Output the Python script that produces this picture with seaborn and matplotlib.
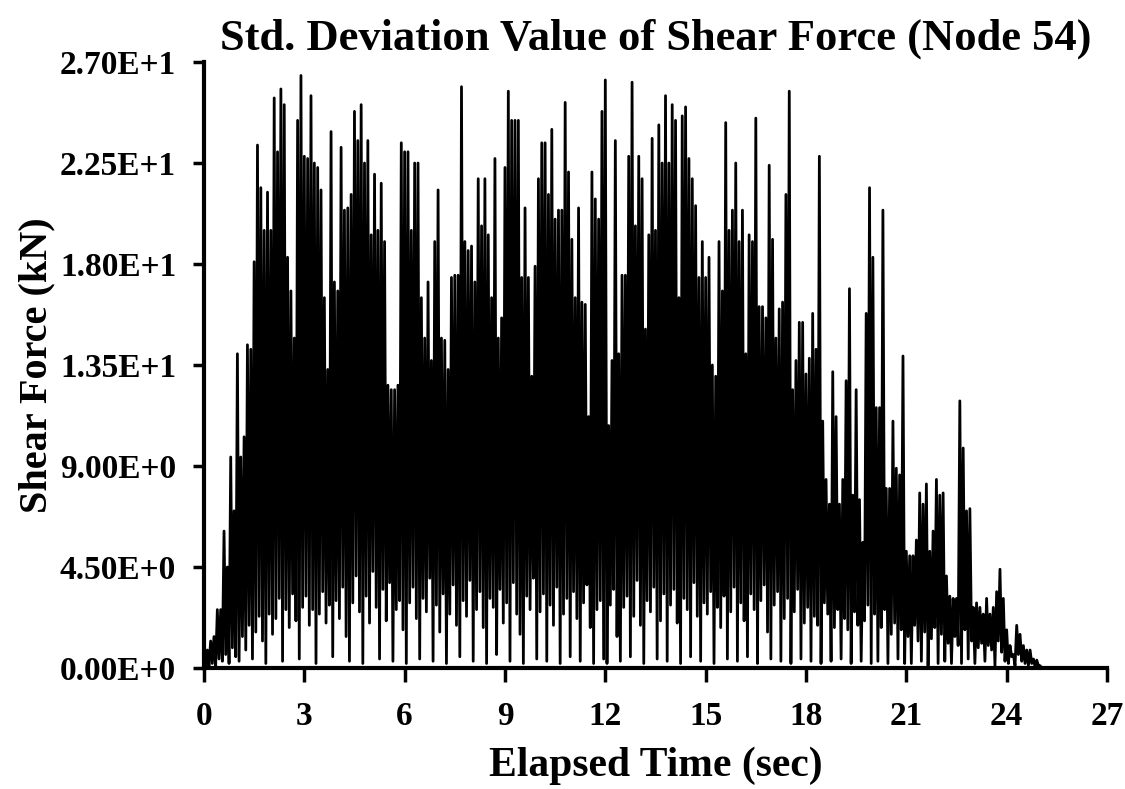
import numpy as np
import pandas as pd
import matplotlib
matplotlib.use("Agg")
import matplotlib.pyplot as plt
import seaborn as sns

# Std. deviation of shear force at node 54, sampled every 0.1 s.
# Each sample holds the local peak and the following trough of the response.
sample_step_s = 0.1

peak_kN = [
    0.3, 0.8, 1.2, 1.4, 2.6, 2.6, 6.1, 4.5, 9.4, 7.0,
    14.0, 9.4, 10.3, 14.4, 14.2, 18.1, 23.3, 21.4, 19.5, 21.2,
    19.5, 25.4, 23.0, 25.8, 25.1, 18.3, 16.8, 14.7, 24.4, 26.4,
    22.8, 22.7, 25.5, 22.5, 22.3, 21.3, 16.5, 13.3, 23.9, 17.2,
    16.8, 23.2, 20.4, 20.5, 21.1, 24.8, 23.5, 25.1, 22.5, 23.5,
    19.3, 22.0, 19.5, 21.6, 19.0, 12.6, 12.4, 12.4, 12.6, 23.4,
    23.0, 23.0, 19.5, 22.5, 22.5, 16.5, 14.7, 17.2, 13.7, 19.0,
    21.3, 14.7, 14.6, 13.3, 17.4, 17.5, 17.5, 25.9, 19.0, 18.6,
    18.8, 17.2, 21.8, 19.7, 21.8, 19.3, 16.5, 22.7, 14.7, 15.6,
    22.3, 25.7, 24.4, 24.4, 24.4, 17.4, 20.5, 17.4, 13.0, 17.9,
    21.8, 23.4, 23.4, 21.1, 24.0, 20.0, 20.4, 20.4, 25.2, 22.1,
    19.1, 16.5, 20.5, 16.3, 16.2, 11.2, 22.1, 20.9, 20.0, 24.8,
    26.2, 10.8, 13.7, 23.5, 14.0, 17.5, 17.5, 22.8, 26.1, 19.7,
    22.8, 21.8, 15.1, 19.3, 23.6, 19.5, 24.2, 22.5, 25.5, 22.5,
    25.1, 24.4, 16.5, 24.6, 25.0, 22.7, 21.8, 20.6, 17.4, 19.0,
    17.4, 18.3, 13.5, 13.0, 19.0, 16.8, 24.3, 19.5, 20.4, 22.5,
    19.0, 20.4, 14.0, 19.3, 19.0, 24.5, 16.1, 16.1, 15.6, 22.4,
    19.1, 14.7, 16.0, 16.3, 21.1, 25.7, 12.4, 13.7, 15.4, 15.4,
    13.1, 13.8, 15.8, 14.2, 22.8, 11.0, 8.4, 7.3, 13.2, 11.2,
    7.3, 8.4, 12.8, 16.9, 7.7, 12.4, 7.5, 5.6, 15.8, 21.4,
    18.3, 11.6, 11.6, 20.4, 8.0, 8.0, 11.0, 8.9, 8.6, 13.9,
    5.2, 5.0, 5.0, 5.7, 7.8, 7.3, 8.2, 5.2, 6.1, 8.4,
    7.7, 7.8, 4.1, 3.2, 3.1, 3.1, 11.9, 9.8, 7.0, 7.1,
    2.7, 2.9, 2.7, 2.4, 3.1, 2.4, 2.7, 3.4, 4.4, 3.1,
    1.7, 1.0, 0.6, 1.9, 1.5, 1.0, 0.8, 0.8, 0.4, 0.35,
    0.1,
]

trough_kN = [
    0.0, 0.1, 0.2, 0.1, 0.4, 0.3, 0.6, 0.2, 0.9, 0.5,
    0.3, 1.4, 0.8, 1.9, 0.4, 1.6, 2.3, 1.2, 0.2, 2.4,
    1.5, 2.2, 3.1, 0.3, 2.6, 1.8, 3.3, 2.1, 0.4, 2.7,
    3.2, 1.9, 2.6, 0.2, 2.4, 3.4, 2.0, 2.8, 0.5, 3.0,
    2.2, 3.6, 1.4, 0.3, 2.9, 4.1, 2.5, 0.2, 3.2, 2.0,
    4.3, 2.7, 0.4, 3.5, 2.1, 3.8, 0.3, 2.6, 3.0, 1.7,
    0.2, 2.9, 3.6, 2.2, 0.4, 3.1, 2.5, 4.0, 0.3, 2.8,
    1.6, 3.3, 0.2, 2.4, 3.7, 1.9, 0.5, 3.0, 2.3, 3.9,
    0.3, 2.6, 3.4, 1.8, 0.2, 3.1, 2.7, 0.6, 3.5, 2.0,
    2.9, 0.3, 3.8, 2.4, 1.5, 0.2, 3.2, 2.6, 4.0, 0.4,
    2.5, 3.3, 0.3, 2.8, 1.9, 3.6, 0.2, 2.4, 3.1, 0.5,
    3.4, 2.2, 0.3, 2.9, 3.7, 1.8, 0.2, 2.6, 3.0, 0.4,
    0.2, 2.8, 3.5, 1.4, 0.3, 2.7, 3.2, 0.5, 2.3, 3.9,
    1.9, 0.2, 3.0, 2.5, 3.6, 0.4, 2.1, 3.3, 0.3, 2.8,
    3.5, 2.0, 0.2, 3.1, 2.6, 0.5, 3.8, 2.3, 0.3, 2.9,
    2.4, 3.4, 0.2, 2.7, 1.8, 3.2, 0.4, 2.5, 3.6, 0.3,
    2.9, 2.1, 0.5, 3.3, 2.6, 0.2, 3.0, 3.7, 1.6, 0.4,
    2.8, 3.4, 0.3, 2.2, 3.1, 0.2, 2.5, 3.5, 0.4, 2.0,
    2.7, 0.3, 2.3, 1.9, 0.2, 2.9, 2.4, 0.3, 1.8, 2.6,
    0.4, 2.2, 1.7, 0.2, 2.5, 1.9, 0.3, 2.1, 2.8, 0.2,
    2.4, 0.3, 1.8, 2.6, 0.2, 1.5, 2.0, 0.4, 1.7, 0.2,
    1.4, 0.2, 1.9, 1.2, 0.3, 1.6, 0.1, 1.3, 1.8, 0.2,
    1.5, 0.3, 1.1, 0.2, 1.4, 1.0, 0.2, 1.7, 0.4, 1.2,
    0.2, 0.9, 1.1, 0.3, 1.0, 0.8, 0.1, 1.2, 0.7, 0.3,
    0.2, 0.5, 0.1, 0.6, 0.3, 0.2, 0.1, 0.2, 0.05, 0.1,
    0.0,
]

x_ticks = [0, 3, 6, 9, 12, 15, 18, 21, 24, 27]
y_ticks = [0.0, 4.5, 9.0, 13.5, 18.0, 22.5, 27.0]
y_tick_labels = ["0.00E+0", "4.50E+0", "9.00E+0", "1.35E+1",
                 "1.80E+1", "2.25E+1", "2.70E+1"]

# Interleave peaks and troughs into one time history
t_peak = np.arange(len(peak_kN)) * sample_step_s
t_trough = t_peak + sample_step_s / 2
time_s = np.column_stack([t_peak, t_trough]).ravel()
force_kN = np.column_stack([peak_kN, trough_kN]).ravel()
history = pd.DataFrame({"Elapsed Time (sec)": time_s, "Shear Force (kN)": force_kN})

sns.set_style("white")
plt.rcParams["font.family"] = ["Liberation Serif", "DejaVu Serif"]
plt.rcParams["font.weight"] = "bold"
plt.rcParams["text.color"] = "black"
plt.rcParams["axes.labelcolor"] = "black"
plt.rcParams["xtick.color"] = "black"
plt.rcParams["ytick.color"] = "black"

fig = plt.figure(figsize=(11.25, 7.89), dpi=100)
ax = fig.add_axes([0.1813, 0.1534, 0.8027, 0.768])

sns.lineplot(data=history, x="Elapsed Time (sec)", y="Shear Force (kN)",
             ax=ax, color="black", linewidth=2.0, estimator=None, sort=False)

ax.set_xlim(0, 27)
ax.set_ylim(0, 27)
ax.set_xticks(x_ticks)
ax.set_xticklabels([str(v) for v in x_ticks])
ax.set_yticks(y_ticks)
ax.set_yticklabels(y_tick_labels)

for side in ["top", "right"]:
    ax.spines[side].set_visible(False)
for side in ["left", "bottom"]:
    ax.spines[side].set_linewidth(3)
    ax.spines[side].set_color("black")

ax.tick_params(axis="x", direction="out", length=10, width=2.5, pad=14,
               labelsize=24, colors="black", bottom=True)
ax.tick_params(axis="y", direction="out", length=8, width=2.5, pad=12,
               labelsize=24, colors="black", left=True)
for lab in ax.get_xticklabels() + ax.get_yticklabels():
    lab.set_fontweight("bold")

ax.set_xlabel("Elapsed Time (sec)", fontsize=30, fontweight="bold",
              color="black", labelpad=10)
ax.set_ylabel("Shear Force (kN)", fontsize=29, fontweight="bold",
              color="black", labelpad=3)
ax.set_title("Std. Deviation Value of Shear Force (Node 54)",
             fontsize=32, fontweight="bold", color="black", pad=9)

fig.savefig("out.png", dpi=100, facecolor="white")
